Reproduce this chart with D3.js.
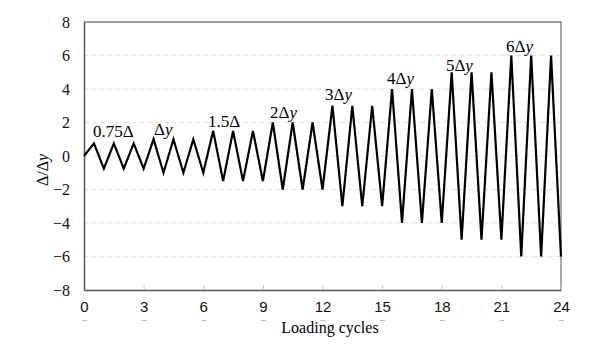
<!DOCTYPE html>
<html><head><meta charset="utf-8">
<script src="https://cdn.jsdelivr.net/npm/d3@7"></script>
<style>body{margin:0;background:#fff}</style>
</head><body>
<svg id="c" width="600" height="351"></svg>
<script>
// Data
const amplitudes = [0.75, 1, 1.5, 2, 3, 4, 5, 6]; // Δ/Δy level per group of 3 cycles
const cyclesPerLevel = 3;
const xTicks = [0, 3, 6, 9, 12, 15, 18, 21, 24];
const yTicks = [-8, -6, -4, -2, 0, 2, 4, 6, 8];
const labelTexts = ["0.75Δ", "Δ|y", "1.5Δ", "2Δ|y", "3Δ|y", "4Δ|y", "5Δ|y", "6Δ|y"];
const labelX = [0.45, 3.52, 6.24, 9.36, 12.13, 15.25, 18.21, 21.23];
const labelY = [1.13, 1.25, 1.73, 2.27, 3.34, 4.3, 5.1, 6.2];

// Build loading history: start at 0, peak at n+0.5, trough at n+1
const pts = [{x: 0, y: 0}];
amplitudes.forEach((a, i) => {
  for (let k = 0; k < cyclesPerLevel; k++) {
    const n = i * cyclesPerLevel + k;
    pts.push({x: n + 0.5, y: a});
    pts.push({x: n + 1, y: -a});
  }
});

const svg = d3.select("#c");
const L = 84, R = 561, T = 22, B = 290;
const x = d3.scaleLinear().domain([0, 24]).range([L, R]);
const y = d3.scaleLinear().domain([-8, 8]).range([B, T]);
const serif = "'Liberation Serif','Times New Roman',serif";
const sans = "'Liberation Sans',Arial,sans-serif";

// grid
svg.append("g").selectAll("line").data(yTicks.filter(v => v > -8 && v < 8)).join("line")
  .attr("x1", L).attr("x2", R).attr("y1", d => y(d)).attr("y2", d => y(d))
  .attr("stroke", "#e2e2e2").attr("stroke-width", 1).attr("stroke-dasharray", "5,3");

// frame top/right
svg.append("path").attr("d", `M${L},${T}H${R}V${B}`).attr("fill", "none")
  .attr("stroke", "#7a7a7a").attr("stroke-width", 1.3);

// x axis
const xa = svg.append("g").attr("transform", `translate(0,${B})`)
  .call(d3.axisBottom(x).tickValues(xTicks).tickSizeInner(-5).tickSizeOuter(0).tickPadding(11));
xa.select(".domain").attr("stroke", "#555").attr("stroke-width", 1.5);
xa.selectAll(".tick line").attr("stroke", "#c8c8c8");
xa.selectAll(".tick text").attr("font-family", sans).attr("font-size", 15).attr("fill", "#111").attr("dy", "0.71em");

// faint cut-off fragments under labels
svg.append("g").selectAll("line").data(xTicks).join("line")
  .attr("x1", d => x(d) - 2).attr("x2", d => x(d) + 3).attr("y1", 320.5).attr("y2", 320.5)
  .attr("stroke", "#bdbdbd").attr("stroke-width", 1);

// y axis
const ya = svg.append("g").attr("transform", `translate(${L},0)`)
  .call(d3.axisLeft(y).tickValues(yTicks).tickSize(0).tickPadding(14));
ya.select(".domain").attr("stroke", "#555").attr("stroke-width", 1.5);
ya.selectAll(".tick text").attr("font-family", serif).attr("font-size", 16).attr("fill", "#111");

// line
svg.append("path").datum(pts)
  .attr("d", d3.line().x(d => x(d.x)).y(d => y(d.y)))
  .attr("fill", "none").attr("stroke", "#000").attr("stroke-width", 2.2)
  .attr("stroke-linejoin", "miter").attr("stroke-miterlimit", 4);

// annotations
function richText(sel, str) {
  const parts = str.split("|");
  sel.append("tspan").text(parts[0]);
  if (parts[1]) sel.append("tspan").attr("font-style", "italic").text(parts[1]);
}
labelTexts.forEach((t, i) => {
  const tx = svg.append("text").attr("x", x(labelX[i])).attr("y", y(labelY[i]))
    .attr("font-family", serif).attr("font-size", 17).attr("fill", "#000");
  richText(tx, t);
});

// axis titles
svg.append("text").attr("x", 330).attr("y", 333).attr("text-anchor", "middle")
  .attr("font-family", serif).attr("font-size", 16).attr("fill", "#000").text("Loading cycles");
const yt = svg.append("text").attr("transform", "translate(48,170) rotate(-90)")
  .attr("text-anchor", "middle").attr("font-family", serif).attr("font-size", 16).attr("fill", "#000");
richText(yt, "Δ/Δ|y");
</script>
</body></html>
